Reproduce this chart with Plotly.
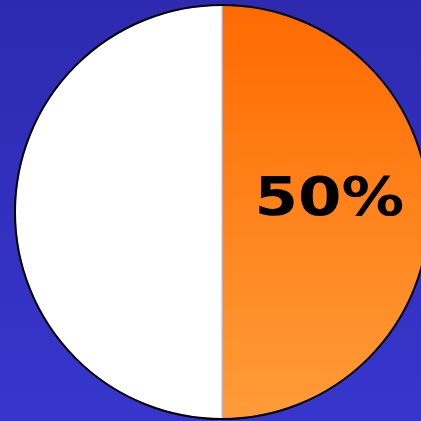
import base64
import plotly.graph_objects as go

# Share of the two halves
labels = ["Orange", "White"]
values = [50, 50]
share_label = f"{values[0] / sum(values):.0%}"

W, H = 430, 421
ML, MR, MT, MB = 15, 1, 5, 2
PW, PH = W - ML - MR, H - MT - MB
cx, cy, r = ML + PW / 2, MT + PH / 2, min(PW, PH) / 2

# Gradient backdrop: blue page and an orange disc that shows through the
# transparent first slice.
svg = f"""<svg xmlns="http://www.w3.org/2000/svg" width="{W}" height="{H}" viewBox="0 0 {W} {H}" preserveAspectRatio="none">
<defs>
<linearGradient id="bg" x1="0" y1="0" x2="0" y2="1">
<stop offset="0" stop-color="#2d2ab0"/><stop offset="1" stop-color="#3636cc"/>
</linearGradient>
<linearGradient id="og" x1="0" y1="0" x2="0" y2="1">
<stop offset="0" stop-color="#ff6a00"/><stop offset="1" stop-color="#ff9c38"/>
</linearGradient>
</defs>
<rect x="0" y="0" width="{W}" height="{H}" fill="url(#bg)"/>
<circle cx="{cx}" cy="{cy}" r="{r}" fill="url(#og)"/>
</svg>"""
src = "data:image/svg+xml;base64," + base64.b64encode(svg.encode()).decode()

fig = go.Figure(
    go.Pie(
        labels=labels,
        values=values,
        sort=False,
        direction="clockwise",
        rotation=0,
        textinfo="none",
        marker=dict(colors=["rgba(0,0,0,0)", "white"],
                    line=dict(color="#b8b8d8", width=1)),
        hoverinfo="skip",
        showlegend=False,
        domain=dict(x=[0, 1], y=[0, 1]),
    )
)

fig.add_layout_image(
    source=src, xref="paper", yref="paper",
    x=-ML / PW, y=1 + MT / PH, sizex=W / PW, sizey=H / PH,
    xanchor="left", yanchor="top", sizing="stretch", layer="below",
)

fig.add_shape(type="circle", xref="paper", yref="paper",
              x0=0, x1=1, y0=0, y1=1,
              line=dict(color="black", width=2))

# Percentage label inside the orange half
fig.add_annotation(
    text=share_label, xref="paper", yref="paper",
    x=(329.5 - ML) / PW, y=1 - (196 - MT) / PH,
    xanchor="center", yanchor="middle", showarrow=False,
    font=dict(family="DejaVu Sans", size=53, color="black", weight="bold"),
)

fig.update_layout(
    width=W, height=H,
    margin=dict(l=ML, r=MR, t=MT, b=MB, pad=0),
    paper_bgcolor="#3232c0",
    plot_bgcolor="rgba(0,0,0,0)",
)

# Page without scrollbars; the label is drawn slightly extended.
post = (
    "document.body.style.margin='0';"
    "document.body.style.overflow='hidden';"
    "document.documentElement.style.overflow='hidden';"
    "document.querySelectorAll('.annotation-text').forEach(function(t){"
    "t.style.transformBox='fill-box';t.style.transformOrigin='center';"
    "t.style.transform='scaleX(1.18)';});"
)

fig.write_html("out.html", config={"displayModeBar": False}, post_script=post)
